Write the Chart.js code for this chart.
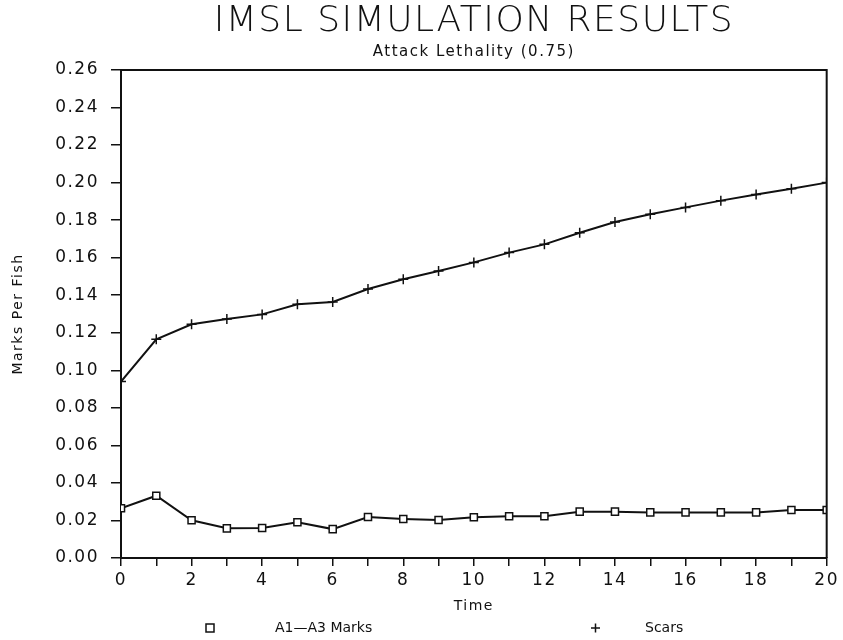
<!DOCTYPE html>
<html>
<head>
<meta charset="utf-8">
<script src="https://cdn.jsdelivr.net/npm/chart.js@4.4.1/dist/chart.umd.min.js"></script>
<style>
  html, body { margin: 0; padding: 0; background: #fff; }
  #wrap { width: 843px; height: 640px; }
</style>
</head>
<body>
<div id="wrap"><canvas id="c" width="843" height="640"></canvas></div>
<script>
// ---- data ----
const timeSteps = [0,1,2,3,4,5,6,7,8,9,10,11,12,13,14,15,16,17,18,19,20];
const a1a3Marks = [0.0265,0.0332,0.0201,0.0158,0.0160,0.0190,0.0154,0.0218,0.0208,0.0202,0.0217,0.0222,0.0222,0.0247,0.0247,0.0243,0.0243,0.0243,0.0243,0.0256,0.0256];
const scars     = [0.094,0.1165,0.1245,0.1273,0.1298,0.1352,0.1364,0.1433,0.1485,0.1529,0.1575,0.1627,0.1671,0.1733,0.179,0.1831,0.1868,0.1904,0.1937,0.1967,0.2000];
const seriesNames = ['A1\u2014A3 Marks', 'Scars'];
const yTicks = [0,0.02,0.04,0.06,0.08,0.10,0.12,0.14,0.16,0.18,0.20,0.22,0.24,0.26];
const xTickLabels = [0,2,4,6,8,10,12,14,16,18,20];

const INK = '#111';
const tickFont = { family: 'DejaVu Sans', size: 17 };

const spacingPlugin = {
  id: 'spacing',
  beforeLayout(chart) { chart.ctx.letterSpacing = '1.5px'; },
  beforeDraw(chart) { chart.ctx.letterSpacing = '1.5px'; }
};

const framePlugin = {
  id: 'frame',
  afterDatasetsDraw(chart) {
    const { ctx, chartArea: a } = chart;
    ctx.save();
    ctx.strokeStyle = INK;
    ctx.lineWidth = 2;
    ctx.beginPath();
    ctx.moveTo(a.left, a.top);
    ctx.lineTo(a.right, a.top);
    ctx.lineTo(a.right, a.bottom);
    ctx.stroke();
    ctx.restore();
  }
};

const legendPlugin = {
  id: 'customLegend',
  afterDraw(chart) {
    const { ctx } = chart;
    const y = 628;
    ctx.save();
    ctx.letterSpacing = '0px';
    ctx.strokeStyle = INK;
    ctx.fillStyle = INK;
    ctx.lineWidth = 1.5;
    ctx.strokeRect(206, y - 4, 8, 8);
    ctx.beginPath();
    ctx.moveTo(591, y); ctx.lineTo(600, y);
    ctx.moveTo(595.5, y - 4.5); ctx.lineTo(595.5, y + 4.5);
    ctx.stroke();
    ctx.font = '14px "DejaVu Sans"';
    ctx.textBaseline = 'middle';
    ctx.textAlign = 'left';
    ctx.fillText(chart.data.datasets[0].label, 275, y);
    ctx.fillText(chart.data.datasets[1].label, 645, y);
    ctx.restore();
  }
};

new Chart(document.getElementById('c'), {
  type: 'line',
  data: {
    datasets: [
      {
        label: seriesNames[0],
        data: timeSteps.map((t, i) => ({ x: t, y: a1a3Marks[i] })),
        borderColor: INK,
        borderWidth: 2,
        pointStyle: 'rect',
        pointRadius: 5,
        pointBackgroundColor: '#fff',
        pointBorderColor: INK,
        pointBorderWidth: 1.5,
        tension: 0
      },
      {
        label: seriesNames[1],
        data: timeSteps.map((t, i) => ({ x: t, y: scars[i] })),
        borderColor: INK,
        borderWidth: 2,
        pointStyle: 'cross',
        pointRadius: 5,
        pointBorderColor: INK,
        pointBorderWidth: 1.5,
        tension: 0
      }
    ]
  },
  options: {
    responsive: false,
    animation: false,
    layout: { padding: { left: 0, right: 15, top: 0, bottom: 22 } },
    plugins: {
      legend: { display: false },
      tooltip: { enabled: false },
      title: {
        display: true,
        fullSize: false,
        text: 'IMSL SIMULATION RESULTS',
        color: INK,
        font: { family: 'DejaVu Sans', size: 36, weight: '200', lineHeight: 1 },
        padding: { top: 4, bottom: 0 }
      },
      subtitle: {
        display: true,
        fullSize: false,
        text: 'Attack Lethality (0.75)',
        color: INK,
        font: { family: 'DejaVu Sans', size: 15, lineHeight: 1 },
        padding: { top: 5, bottom: 10 }
      }
    },
    scales: {
      x: {
        type: 'linear',
        min: 0,
        max: 20,
        afterFit(scale) { scale.height = 60; },
        afterBuildTicks(scale) { scale.ticks = timeSteps.map(v => ({ value: v })); },
        ticks: {
          autoSkip: false,
          maxRotation: 0,
          color: INK,
          font: tickFont,
          padding: 4,
          callback: v => (xTickLabels.includes(v) ? String(v) : '')
        },
        grid: { drawOnChartArea: false, drawTicks: true, tickLength: 8, color: INK, lineWidth: 1.5 },
        border: { display: true, color: INK, width: 2 },
        title: {
          display: true,
          text: 'Time',
          color: INK,
          font: { family: 'DejaVu Sans', size: 14, lineHeight: 1.2 },
          padding: { top: 0, bottom: 3 }
        }
      },
      y: {
        type: 'linear',
        min: 0,
        max: 0.26,
        afterFit(scale) { scale.width = 121; },
        afterBuildTicks(scale) { scale.ticks = yTicks.map(v => ({ value: v })); },
        ticks: {
          autoSkip: false,
          color: INK,
          font: tickFont,
          padding: 12,
          callback: v => Number(v).toFixed(2)
        },
        grid: { drawOnChartArea: false, drawTicks: true, tickLength: 10, color: INK, lineWidth: 1.5 },
        border: { display: true, color: INK, width: 2 },
        title: {
          display: true,
          text: 'Marks Per Fish',
          color: INK,
          font: { family: 'DejaVu Sans', size: 14, lineHeight: 1.2 },
          padding: { top: 10, bottom: 0 }
        }
      }
    }
  },
  plugins: [spacingPlugin, framePlugin, legendPlugin]
});
</script>
</body>
</html>
